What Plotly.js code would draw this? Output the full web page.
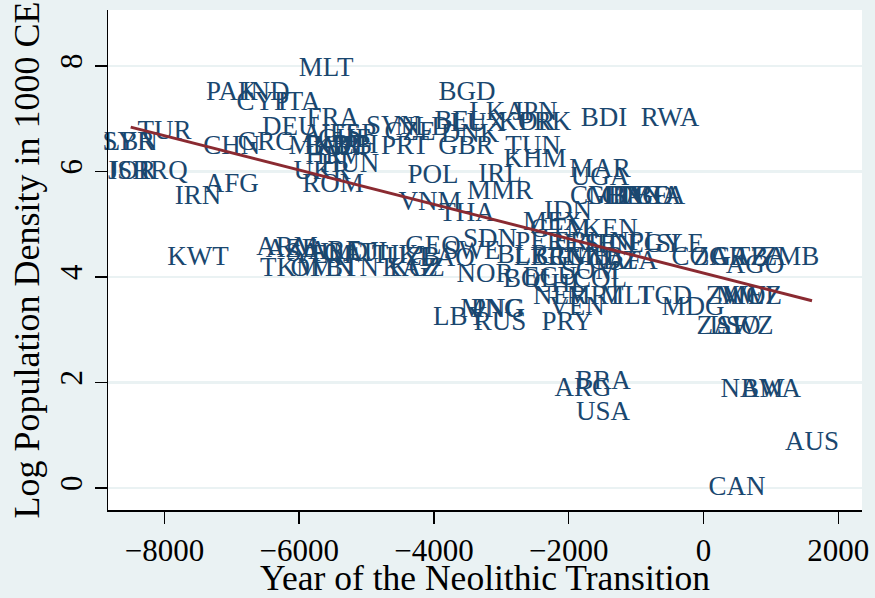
<!DOCTYPE html>
<html><head><meta charset="utf-8">
<script src="https://cdn.plot.ly/plotly-3.0.1.min.js"></script>
<style>html,body{margin:0;padding:0;background:#EAF2F3;}</style>
</head><body><div id="chart" style="width:875px;height:598px;"></div>
<script>
// Country codes, year of Neolithic transition, log population density in 1000 CE
const countries = ["SYR","LBN","ISR","JOR","IRQ","TUR","PAK","IND","CYP","ITA","MLT","CHN","GRC","AFG","IRN","DEU","FRA","KWT",
"AUT","ESP","CHE","MKD","BGR","ALB","BIH","HRV","HUN","UKR","ROM","PRT","SVN","CZE","NLD","BEL","LUX","DNK","GBR","IRL","POL",
"BGD","LKA","JPN","KOR","PRK","BDI","RWA","TUN","KHM","MMR","VNM","THA","IDN","MAR","UGA","CMR","GHA","CIV","BEN","TGO","NGA","BFA",
"ARM","AZE","SAU","YEM","ARE","QAT","DJI","TJK","UZB","TKM","OMN","BTN","KAZ","KGZ","GEO","SWE","LAO","SDN","NOR","BLR","PER",
"MEX","GTM","KEN","ERI","ETH","SEN","NPL","EGY","SLE","LBR","GIN","GMB","GNB","CAF","DZA","COG","ZAR","GAB","TZA","ZMB","AGO",
"BOL","ECU","SOM","COL","CHL","NER","MRT","MLI","TCD","ZWE","MWI","MOZ","MDG","VEN","PRY","RUS","LBY","MNG","PNG","ZAF","LSO","SWZ",
"BRA","ARG","USA","NAM","BWA","AUS","CAN"];
const transitionYear = [-8530,-8500,-8520,-8480,-8000,-8000,-7000,-6500,-6540,-6000,-5600,-7000,-6500,-7000,-7500,-6140,-5500,-7500,
-5543,-5201,-5320,-5691,-5498,-5320,-5172,-5498,-5246,-5660,-5498,-4430,-4608,-4356,-4163,-3614,-3346,-3465,-3525,-3020,-4014,
-3510,-3065,-2501,-2619,-2352,-1476,-497,-2530,-2501,-3020,-4059,-3510,-2011,-1536,-1536,-1536,-1313,-1165,-1017,-868,-764,-646,
-6181,-6107,-5795,-5660,-5468,-5246,-4979,-4578,-4311,-6136,-5660,-5216,-4356,-4252,-4014,-3435,-3807,-3168,-3243,-2679,-2426,
-2233,-2129,-1387,-1907,-1684,-1387,-1017,-720,-349,-2426,-2129,-1833,-1610,-1313,-1091,-52,245,542,838,1284,764,
-2575,-2278,-1684,-1536,-2129,-2129,-1610,-1165,-571,467,616,720,-156,-1877,-2026,-3020,-3614,-3139,-3050,275,467,616,
-1491,-1788,-1491,720,1002,1610,497];
const logDensity = [6.54,6.54,5.99,5.99,5.99,6.75,7.49,7.49,7.30,7.30,7.94,6.45,6.54,5.73,5.52,6.82,6.98,4.36,
6.69,6.69,6.60,6.46,6.46,6.46,6.48,6.26,6.12,5.99,5.73,6.46,6.84,6.73,6.82,6.94,6.90,6.69,6.45,5.93,5.90,
7.49,7.11,7.11,6.92,6.92,6.98,6.98,6.45,6.22,5.61,5.40,5.18,5.23,6.03,5.88,5.52,5.52,5.52,5.52,5.52,5.52,5.52,
4.55,4.51,4.44,4.40,4.47,4.44,4.45,4.40,4.36,4.15,4.15,4.15,4.15,4.15,4.57,4.47,4.34,4.70,4.04,4.40,4.64,
5.02,4.89,4.89,4.63,4.61,4.61,4.63,4.61,4.61,4.36,4.36,4.36,4.36,4.28,4.28,4.36,4.36,4.36,4.36,4.36,4.21,
3.94,3.98,4.09,3.94,3.85,3.62,3.62,3.62,3.62,3.62,3.62,3.62,3.41,3.41,3.13,3.13,3.22,3.37,3.37,3.05,3.05,3.05,
2.01,1.88,1.42,1.86,1.86,0.85,0.00];
// Fitted values line
const fitYear = [-8500, 1610];
const fitDensity = [6.84, 3.55];
// Axis ticks
const xTicks = [-8000, -6000, -4000, -2000, 0, 2000];
const xTickLabels = ["\u22128000", "\u22126000", "\u22124000", "\u22122000", "0", "2000"];
const yTicks = [0, 2, 4, 6, 8];
const yTickLabels = ["0", "2", "4", "6", "8"];

const serif = '"Liberation Serif", "Times New Roman", Times, serif';
const data = [
  {type:'scatter', mode:'text', x:transitionYear, y:logDensity, text:countries,
   textposition:'middle center', cliponaxis:false, hoverinfo:'skip',
   textfont:{family:serif, size:27, color:'#1A476F'}},
  {type:'scatter', mode:'lines', x:fitYear, y:fitDensity, hoverinfo:'skip',
   line:{color:'#8A2A31', width:3}}
];
const layout = {
  width:875, height:598,
  paper_bgcolor:'#EAF2F3', plot_bgcolor:'#FFFFFF',
  margin:{l:108, r:13, t:10, b:88, pad:0},
  showlegend:false,
  font:{family:serif, color:'#000000'},
  xaxis:{range:[-8837, 2352], tickmode:'array', tickvals:xTicks, ticktext:xTickLabels,
    ticks:'outside', ticklen:12, tickwidth:1.5, tickcolor:'#000',
    showline:true, linecolor:'#000', linewidth:1.5, showgrid:false, zeroline:false,
    tickfont:{family:serif, size:31, color:'#000'},
    title:{text:'Year of the Neolithic Transition', font:{family:serif, size:35.5, color:'#000'}, standoff:1}},
  yaxis:{range:[-0.417, 9.06], tickmode:'array', tickvals:yTicks, ticktext:yTickLabels, tickangle:-90,
    ticks:'outside', ticklen:12, tickwidth:1.5, tickcolor:'#000',
    showline:true, linecolor:'#000', linewidth:1.5, showgrid:true, gridcolor:'#EAF2F3', gridwidth:2.5, zeroline:false,
    tickfont:{family:serif, size:31, color:'#000'},
    title:{text:'Log Population Density in 1000 CE', font:{family:serif, size:36, color:'#000'}, standoff:3}}
};
Plotly.newPlot('chart', data, layout, {displayModeBar:false, staticPlot:true});
</script>
</body></html>
